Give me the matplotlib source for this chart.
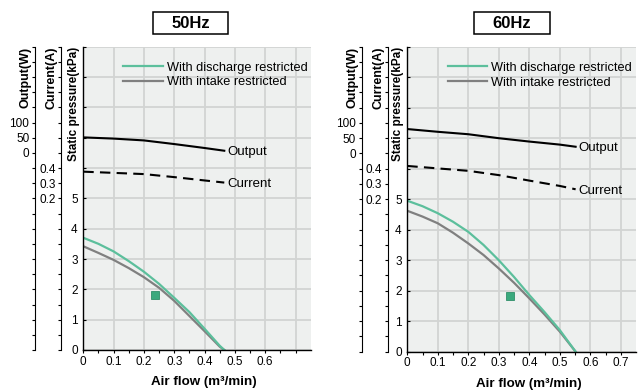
import matplotlib
matplotlib.use("Agg")
import matplotlib.pyplot as plt
from matplotlib.patches import Rectangle
from matplotlib.lines import Line2D

plt.rcParams['font.family'] = ['Liberation Sans', 'DejaVu Sans']

# 50 Hz data
flow50 = [0, 0.05, 0.1, 0.15, 0.2, 0.25, 0.3, 0.35, 0.4, 0.45, 0.465]
discharge50 = [3.7, 3.5, 3.25, 2.93, 2.58, 2.18, 1.72, 1.25, 0.70, 0.14, 0]
intake50 = [3.42, 3.2, 2.97, 2.7, 2.4, 2.05, 1.62, 1.12, 0.62, 0.11, 0]
out_flow50 = [0, 0.1, 0.2, 0.3, 0.4, 0.465]
output50 = [51, 47, 41, 29, 16, 7]
current50 = [0.376, 0.368, 0.36, 0.34, 0.318, 0.304]
rated50 = (0.237, 1.81)

# 60 Hz data
flow60 = [0, 0.05, 0.1, 0.15, 0.2, 0.25, 0.3, 0.35, 0.4, 0.45, 0.5, 0.552]
discharge60 = [4.95, 4.77, 4.54, 4.26, 3.93, 3.5, 3.0, 2.45, 1.86, 1.3, 0.71, 0]
intake60 = [4.62, 4.43, 4.21, 3.9, 3.55, 3.17, 2.73, 2.26, 1.75, 1.22, 0.66, 0]
out_flow60 = [0, 0.1, 0.2, 0.3, 0.4, 0.5, 0.552]
output60 = [80, 71, 63, 50, 39, 29, 22]
current60 = [0.418, 0.402, 0.386, 0.358, 0.322, 0.287, 0.265]
rated60 = (0.336, 1.83)

GREEN = '#5cbf9c'
GRAY = '#808080'
BG = '#eef0ef'
GRID = '#d2d4d3'


def draw_panel(fig, rect, title, title_box, flow, dis, inn, oflow, out, cur, rated,
               xlabels, out_off, cur_off):
    ax = fig.add_axes(rect)
    ax.set_facecolor(BG)
    ax.set_xlim(0, 0.75)
    ax.set_ylim(0, 10)
    ax.set_xticks([i / 10 for i in range(8)])
    ax.set_xticklabels(xlabels, fontsize=8.5)
    ax.set_xticks([0.05 + i / 10 for i in range(7)], minor=True)
    ax.set_yticks(range(11))
    ax.set_yticklabels([str(i) if i <= 5 else '' for i in range(11)], fontsize=8.5)
    ax.grid(True, color=GRID, linewidth=1.3)
    ax.set_axisbelow(True)
    for s in ['top', 'right']:
        ax.spines[s].set_visible(False)
    for s in ['left', 'bottom']:
        ax.spines[s].set_linewidth(1.0)
    ax.tick_params(axis='x', which='both', length=2.5, width=0.8, pad=1.5)
    ax.tick_params(axis='y', direction='in', length=2.5, width=0.8, pad=4)

    ax.plot(flow, inn, color=GRAY, lw=1.6, label='With intake restricted')
    ax.plot(flow, dis, color=GREEN, lw=1.6, label='With discharge restricted')
    ax.plot([rated[0]], [rated[1]], 's', ms=5.5, color='#3aa97d', mec='#2f8f69', mew=0.6)

    handles = [Line2D([], [], color=GREEN, lw=1.6), Line2D([], [], color=GRAY, lw=1.6)]
    ax.legend(handles, ['With discharge restricted', 'With intake restricted'],
              loc='upper left', bbox_to_anchor=(0.176, 0.950), frameon=False,
              fontsize=9.2, handlelength=3.1, handletextpad=0.3, labelspacing=0.2,
              borderpad=0, borderaxespad=0)

    ax.set_xlabel('Air flow (m³/min)', fontsize=9.6, fontweight='bold')
    ax.xaxis.set_label_coords(0.53, -0.085)

    # current axis
    axc = ax.twinx()
    axc.set_ylim(-0.8, 1.2)
    axc.spines['left'].set_position(('outward', cur_off))
    axc.spines['left'].set_visible(True)
    for s in ['right', 'top', 'bottom']:
        axc.spines[s].set_visible(False)
    axc.yaxis.set_ticks_position('left')
    axc.set_yticks([0.2, 0.3, 0.4])
    axc.set_yticklabels(['0.2', '0.3', '0.4'], fontsize=8.5)
    axc.set_yticks([-0.8 + i * 0.1 for i in range(21)], minor=True)
    axc.tick_params(which='both', length=2.5, width=0.8, pad=1.5)
    axc.plot(oflow, cur, color='black', lw=1.5, ls=(0, (5, 3)))
    axc.annotate('Current', (oflow[-1], cur[-1]), xytext=(2, -1), textcoords='offset points',
                 ha='left', va='center', fontsize=9.5)

    # output axis
    axo = ax.twinx()
    axo.set_ylim(-650, 350)
    axo.spines['left'].set_position(('outward', out_off))
    axo.spines['left'].set_visible(True)
    for s in ['right', 'top', 'bottom']:
        axo.spines[s].set_visible(False)
    axo.yaxis.set_ticks_position('left')
    axo.set_yticks([0, 50, 100])
    axo.set_yticklabels(['0', '50', '100'], fontsize=8.5)
    axo.set_yticks([-650 + i * 50 for i in range(21)], minor=True)
    axo.tick_params(which='both', length=2.5, width=0.8, pad=1.5)
    axo.plot(oflow, out, color='black', lw=1.5)
    axo.annotate('Output', (oflow[-1], out[-1]), xytext=(2, -1), textcoords='offset points',
                 ha='left', va='center', fontsize=9.5)

    # rotated axis titles
    ax.annotate('Static pressure(kPa)', (0, 1.0), xycoords='axes fraction',
                xytext=(-2.2, 0), textcoords='offset points', rotation=90,
                ha='right', va='top', fontsize=8.5, fontweight='bold')
    ax.annotate('Current(A)', (0, 1.0), xycoords='axes fraction',
                xytext=(-cur_off - 2.6, 0), textcoords='offset points', rotation=90,
                ha='right', va='top', fontsize=9, fontweight='bold')
    ax.annotate('Output(W)', (0, 1.0), xycoords='axes fraction',
                xytext=(-out_off - 2.4, 0), textcoords='offset points', rotation=90,
                ha='right', va='top', fontsize=9, fontweight='bold')

    # frequency title box
    bx, by, bw, bh = title_box
    fig.patches.append(Rectangle((bx, by), bw, bh, transform=fig.transFigure,
                                 fill=False, ec='black', lw=1.1))
    fig.text(bx + bw / 2, by + bh / 2, title, ha='center', va='center', fontsize=12,
             fontweight='bold')
    return ax


fig = plt.figure(figsize=(6.41, 3.90), dpi=100)

draw_panel(fig, [83.3 / 641, 1 - 350 / 390, 227.4 / 641, 303.3 / 390], '50Hz',
           (153 / 641, 1 - 34.3 / 390, 75 / 641, 22.6 / 390),
           flow50, discharge50, intake50, out_flow50, output50, current50, rated50,
           ['0', '0.1', '0.2', '0.3', '0.4', '0.5', '0.6', ''], 34.8, 16.0)

draw_panel(fig, [407.3 / 641, 1 - 351.7 / 390, 228.7 / 641, 305 / 390], '60Hz',
           (474.3 / 641, 1 - 34.3 / 390, 75.7 / 641, 22.6 / 390),
           flow60, discharge60, intake60, out_flow60, output60, current60, rated60,
           ['0', '0.1', '0.2', '0.3', '0.4', '0.5', '0.6', '0.7'], 32.8, 14.1)

fig.savefig('out.png', dpi=100)
